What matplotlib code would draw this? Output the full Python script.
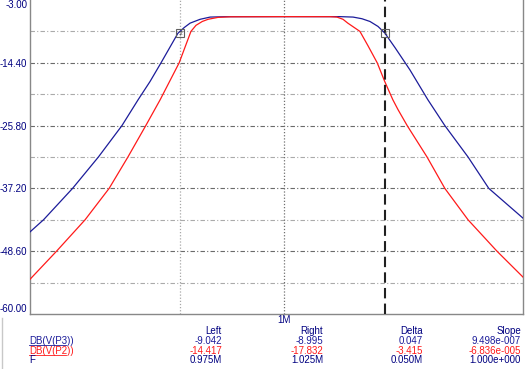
import matplotlib
matplotlib.use("Agg")
import matplotlib.pyplot as plt
from matplotlib.lines import Line2D

# ---- data (frequency in MHz, magnitude in dB) ----
blue_f = [0.9400, 0.9431, 0.9498, 0.9558, 0.9613, 0.9651, 0.9679, 0.9705, 0.9745,
          0.9760, 0.9774, 0.9798, 0.9822, 0.9858, 1.0000, 1.0138, 1.0170, 1.0192,
          1.0212, 1.0232, 1.0249, 1.0275, 1.0300, 1.0312, 1.0357, 1.0400, 1.0459,
          1.0512, 1.0600]
blue_db = [-45.1, -42.9, -37.2, -31.5, -25.8, -21.1, -17.8, -14.4, -9.04,
           -8.0, -7.2, -6.5, -6.1, -6.03, -6.02, -6.02, -6.1, -6.4,
           -6.9, -7.8, -9.0, -11.7, -14.4, -15.7, -21.1, -25.8, -31.5,
           -37.2, -42.6]

red_f = [0.9400, 0.9461, 0.9527, 0.9583, 0.9627, 0.9669, 0.9703, 0.9748, 0.9776,
         0.9788, 0.9803, 0.9817, 0.9841, 0.9870, 1.0000, 1.0113, 1.0130, 1.0145,
         1.0157, 1.0187, 1.0207, 1.0230, 1.0249, 1.0269, 1.0282, 1.0305, 1.0355,
         1.0400, 1.0459, 1.0533, 1.0600]
red_db = [-53.7, -48.6, -42.9, -37.2, -31.5, -25.8, -21.1, -14.4, -8.7,
          -7.6, -6.9, -6.5, -6.15, -6.05, -6.02, -6.03, -6.1, -6.5,
          -7.2, -8.7, -11.3, -14.4, -17.83, -21.1, -22.9, -25.8, -31.5,
          -37.2, -42.9, -48.6, -53.3]

y_ticks = [-3.0, -14.4, -25.8, -37.2, -48.6, -60.0]
y_tick_labels = ["-3.00", "-14.40", "-25.80", "-37.20", "-48.60", "-60.00"]
x_ticks = [1.0]
x_tick_labels = ["1M"]
cursor_left = 0.975
cursor_right = 1.025
cursor_left_db = -9.042
cursor_right_db = -8.995

table_cols = ["Left", "Right", "Delta", "Slope"]
table_rows = ["DB(V(P3))", "DB(V(P2))", "F"]
table_vals = [["-9.042", "-8.995", "0.047", "9.498e-007"],
              ["-14.417", "-17.832", "-3.415", "-6.836e-005"],
              ["0.975M", "1.025M", "0.050M", "1.000e+000"]]

NAVY = "#000080"
BLUE = "#1c1c9a"
RED = "#ff1a1a"

W, H = 532, 369
fig = plt.figure(figsize=(W / 100, H / 100), dpi=100)
fig.patch.set_facecolor("white")


def fx(x):
    return x / W


def fy(y):
    return 1 - y / H


ax = fig.add_axes([fx(30), fy(314), (523 - 30) / W, 314 / H])
ax.set_xscale("log")
ax.set_xlim(0.94, 1.06)
ax.set_ylim(-60, -3)

# grid
for i in range(1, 10):
    v = -3 - 5.7 * i
    major = (i % 2 == 0)
    ax.axhline(v, color="#6a6a6a" if major else "#aaaaaa", lw=0.8,
               ls=(0, (4, 2, 1, 2)), zorder=1)
ax.axvline(1.0, color="#707070", lw=0.9, ls=(0, (1, 1.5)), zorder=1)
ax.axvline(cursor_left, color="#a8a8a8", lw=0.9, ls=(0, (1, 1.5)), zorder=1)

ax.plot(blue_f, blue_db, color=BLUE, lw=0.9, zorder=3)
ax.plot(red_f, red_db, color=RED, lw=0.9, zorder=3)

# cursor 1 (dashed)
ax.axvline(cursor_right, color="#202020", lw=1.5, ls=(0, (5, 2.5)), zorder=4)

# cursor markers
for fval, dbv, lab in [(cursor_left, cursor_left_db, "2"), (cursor_right, cursor_right_db, "1")]:
    ax.plot([fval], [dbv], marker="s", ms=6, mfc="none", mec="#606060", mew=0.8, zorder=5)
    ax.text(fval, dbv, lab, fontsize=4.5, ha="center", va="center",
            color="#303030", zorder=6)

# axes styling
for s in ["left", "bottom", "right"]:
    ax.spines[s].set_color("#888888")
    ax.spines[s].set_linewidth(1.0)
ax.spines["top"].set_visible(False)
ax.minorticks_off()
ax.tick_params(axis="both", length=0, labelsize=7, colors=NAVY, pad=2)
ax.set_yticks(y_ticks)
ax.set_yticklabels(y_tick_labels, family="Liberation Sans")
for i, t in enumerate(ax.get_yticklabels()):
    if i == 0:
        t.set_va("top")
    elif i == len(y_ticks) - 1:
        t.set_va("bottom")
ax.set_xticks(x_ticks)
ax.set_xticklabels(x_tick_labels, family="Liberation Sans")
ax.tick_params(axis="x", pad=1)

# table below
col_right = [222, 323, 423, 521]
header_y = 331
row_y = [341, 351, 360]
row_colors = [BLUE, RED, NAVY]
for c, xr in zip(table_cols, col_right):
    fig.text(fx(xr), fy(header_y), c, fontsize=7, color=NAVY, ha="right",
             va="center", family="Liberation Sans")
for r, (name, yv, col) in enumerate(zip(table_rows, row_y, row_colors)):
    fig.text(fx(29), fy(yv), name, fontsize=7, color=col, ha="left",
             va="center", family="Liberation Sans")
    if r < 2:
        fig.add_artist(Line2D([fx(29), fx(66)], [fy(yv + 3.8), fy(yv + 3.8)],
                              color=col, lw=0.6))
    for v, xr in zip(table_vals[r], col_right):
        fig.text(fx(xr), fy(yv), v, fontsize=7, color=col, ha="right",
                 va="center", family="Liberation Sans")

# left frame line
fig.add_artist(Line2D([fx(2), fx(2)], [fy(318), fy(369)], color="#c8c8c8", lw=1.0))

fig.savefig("out.png", dpi=100)
